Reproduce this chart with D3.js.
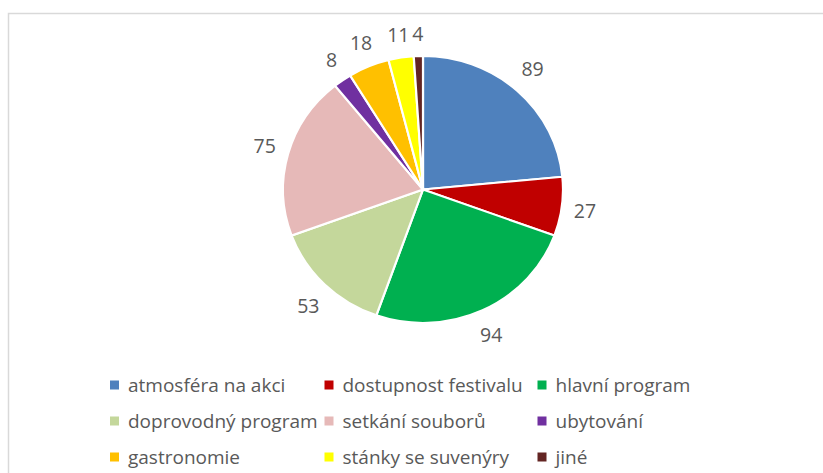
<!DOCTYPE html>
<html>
<head>
<meta charset="utf-8">
<script src="https://cdn.jsdelivr.net/npm/d3@7"></script>
<style>
  body { margin: 0; background: #fff; }
  svg { display: block; font-family: "Open Sans", sans-serif; }
</style>
</head>
<body>
<svg id="chart" width="823" height="473"></svg>
<script>
const categories = ["atmosféra na akci", "dostupnost festivalu", "hlavní program",
  "doprovodný program", "setkání souborů", "ubytování",
  "gastronomie", "stánky se suvenýry", "jiné"];
const values = [89, 27, 94, 53, 75, 8, 18, 11, 4];
const colors = ["#4F81BD", "#C00000", "#00B050", "#C4D79B", "#E6B9B8",
  "#7030A0", "#FFC000", "#FFFF00", "#632523"];

const svg = d3.select("#chart");

// chart frame (runs off the right and bottom edges)
svg.append("rect")
  .attr("x", 8.5).attr("y", 13.5)
  .attr("width", 830).attr("height", 480)
  .attr("fill", "none")
  .attr("stroke", "#d9d9d9")
  .attr("stroke-width", 1.5);

const cx = 423, cy = 189.5, rx = 140, ry = 133.5;
const sy = ry / rx;

const pie = d3.pie().sort(null).value(d => d);
const arcs = pie(values);
const arc = d3.arc().innerRadius(0).outerRadius(rx);

const g = svg.append("g").attr("transform", `translate(${cx},${cy})`);

g.append("g").attr("transform", `scale(1,${sy})`)
  .selectAll("path")
  .data(arcs)
  .enter()
  .append("path")
  .attr("d", arc)
  .attr("fill", (d, i) => colors[i])
  .attr("stroke", "#fff")
  .attr("stroke-width", 2.2);

// data labels outside the end, pushed out by the label box size
const fontSize = 19.5, gap = 11, boxH = 22;
g.selectAll("text.label")
  .data(arcs)
  .enter()
  .append("text")
  .attr("class", "label")
  .attr("font-size", fontSize)
  .attr("fill", "#595959")
  .attr("text-anchor", "middle")
  .attr("dominant-baseline", "central")
  .text(d => d.value)
  .each(function(d) {
    const a = (d.startAngle + d.endAngle) / 2;
    const s = Math.sin(a), c = Math.cos(a);
    const w = this.getComputedTextLength();
    const rEdge = 1 / Math.sqrt((s / rx) ** 2 + (c / ry) ** 2);
    const dist = rEdge + gap + Math.abs(s) * w / 2 + Math.abs(c) * boxH / 2;
    d3.select(this).attr("x", s * dist).attr("y", -c * dist);
  });

// legend
const legendCols = [114.5, 329, 542];
const legendRows = [385, 421, 457];
const legend = svg.append("g")
  .selectAll("g")
  .data(categories)
  .enter()
  .append("g")
  .attr("transform", (d, i) => `translate(${legendCols[i % 3]},${legendRows[Math.floor(i / 3)]})`);

legend.append("rect")
  .attr("x", -4.5).attr("y", -4.5)
  .attr("width", 9).attr("height", 9)
  .attr("fill", (d, i) => colors[i]);

legend.append("text")
  .attr("x", 13.5)
  .attr("dominant-baseline", "central")
  .attr("font-size", 19)
  .attr("fill", "#595959")
  .text(d => d);
</script>
</body>
</html>
